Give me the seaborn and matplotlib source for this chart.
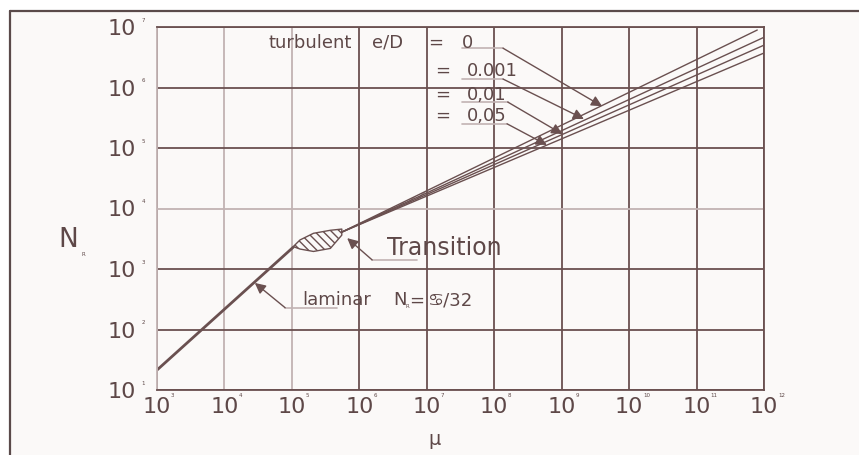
import numpy as np
import pandas as pd
import seaborn as sns
import matplotlib.pyplot as plt
from matplotlib.lines import Line2D
from matplotlib.patches import Rectangle

# ---- data (log10 values) ----
x_decades = list(range(3, 13))          # 10^3 .. 10^12
y_decades = list(range(1, 8))           # 10^1 .. 10^7

laminar_logx = [3.0, 5.02]
laminar_logy = [1.33, 3.36]

lens_logx = [5.02, 5.12, 5.32, 5.57, 5.74]
lens_upper = [3.37, 3.48, 3.59, 3.64, 3.66]
lens_lower = [3.37, 3.33, 3.29, 3.34, 3.56]

roughness = ["0", "0.001", "0,01", "0,05"]
turb_logx = {"0": [5.74, 11.9], "0.001": [5.74, 12.0],
             "0,01": [5.74, 12.0], "0,05": [5.74, 12.0]}
turb_logy = {"0": [3.61, 6.95], "0.001": [3.61, 6.83],
             "0,01": [3.61, 6.70], "0,05": [3.61, 6.57]}

ink = "#6a5050"
txt = "#5e4848"
light = "#c2b3b3"

sns.set_theme(style="white")
plt.rcParams["font.family"] = ["DejaVu Sans"]

fig = plt.figure(figsize=(8.59, 4.55), dpi=100, facecolor="white")
# paper frame (scanned look)
fig.add_artist(Rectangle((10 / 859, 0), 1, 1 - 11 / 455, transform=fig.transFigure,
                         facecolor="#fbf9f8", edgecolor="none", zorder=-5))
fig.add_artist(Line2D([10 / 859, 10 / 859], [0, 1 - 11 / 455], transform=fig.transFigure,
                      color="#5a4a4a", lw=1.6))
fig.add_artist(Line2D([10 / 859, 1], [1 - 11 / 455, 1 - 11 / 455], transform=fig.transFigure,
                      color="#5a4a4a", lw=1.6))

ax = fig.add_axes([157 / 859, 1 - 390 / 455, 607 / 859, 363 / 455])
ax.set_facecolor("#fbf9f8")
ax.set_xscale("log")
ax.set_yscale("log")
ax.set_xlim(1e3, 1e12)
ax.set_ylim(1e1, 1e7)

# laminar
sns.lineplot(x=10 ** np.array(laminar_logx), y=10 ** np.array(laminar_logy),
             ax=ax, color=ink, lw=2.0)

# transition lens
lx = 10 ** np.array(lens_logx)
ax.fill_between(lx, 10 ** np.array(lens_lower), 10 ** np.array(lens_upper),
                facecolor="none", edgecolor=ink, hatch="\\\\\\\\", lw=1.0)

# turbulent lines
for key in roughness:
    df = pd.DataFrame({"x": 10 ** np.array(turb_logx[key]),
                       "y": 10 ** np.array(turb_logy[key])})
    sns.lineplot(data=df, x="x", y="y", ax=ax, color=ink, lw=1.0)

# dense band near the start of the turbulent region
bx = np.logspace(5.74, 7.0, 20)
top = 10 ** (3.61 + (np.log10(bx) - 5.74) * (6.95 - 3.61) / (11.9 - 5.74))
bot = 10 ** (3.61 + (np.log10(bx) - 5.74) * (6.57 - 3.61) / (12.0 - 5.74))
ax.fill_between(bx, bot, top, facecolor="none", edgecolor=ink, hatch="//////", lw=0, alpha=0.6)

# grid / axes
ax.set_xticks([10.0 ** k for k in x_decades])
ax.set_yticks([10.0 ** k for k in y_decades])
ax.minorticks_off()
ax.set_xticklabels(["10"] * len(x_decades))
ax.set_yticklabels(["10"] * len(y_decades))
ax.tick_params(axis="x", length=0, pad=5, labelsize=16, labelcolor=txt)
ax.tick_params(axis="y", length=0, pad=15, labelsize=16, labelcolor=txt)
ax.grid(True, which="major", color=ink, lw=1.3)
for i, gl in enumerate(ax.get_xgridlines()):
    if x_decades[i] in (4, 5):
        gl.set_color(light)
for i, gl in enumerate(ax.get_ygridlines()):
    if y_decades[i] == 4:
        gl.set_color(light)
for s in ax.spines.values():
    s.set_color(ink)
    s.set_linewidth(1.3)
ax.spines["left"].set_color(light)

# tiny exponents
for k in x_decades:
    ax.annotate(str(k), xy=(10.0 ** k, 0), xycoords=("data", "axes fraction"),
                xytext=(10, -4), textcoords="offset points", fontsize=4,
                color=txt, ha="left", va="center")
for k in y_decades:
    ax.annotate(str(k), xy=(0, 10.0 ** k), xycoords=("axes fraction", "data"),
                xytext=(-10, 5), textcoords="offset points", fontsize=4,
                color=txt, ha="center", va="center")

# axis labels
ax.set_ylabel("N", rotation=0, fontsize=19, color=txt, va="center", ha="center")
ax.yaxis.set_label_coords(-0.147, 0.413)
ax.text(-0.124, 0.37, "R", transform=ax.transAxes, fontsize=4, color=txt)
ax.set_xlabel("μ", fontsize=14, color=txt, va="center")
ax.xaxis.set_label_coords(0.457, -0.135)


def P(lx, ly):
    return (10 ** lx, 10 ** ly)


def arrow(start, tip):
    ax.annotate("", xy=P(*tip), xytext=P(*start),
                arrowprops=dict(arrowstyle="-|>", color=ink, lw=1.0,
                                mutation_scale=16, shrinkA=0, shrinkB=0))


def underline(x0, x1, y):
    ax.plot([10 ** x0, 10 ** x1], [10 ** y, 10 ** y], color=light, lw=1.2)


# turbulent labels
ax.text(*P(4.65, 6.66), "turbulent", fontsize=13, color=txt, va="baseline")
ax.text(*P(6.19, 6.66), "e/D", fontsize=13, color=txt, va="baseline")
ax.text(*P(7.02, 6.66), "=", fontsize=13, color=txt, va="baseline")
ax.text(*P(7.52, 6.66), "0", fontsize=13, color=txt, va="baseline")
rows = [("0.001", 6.19, 6.14, 8.13, (9.33, 5.48)),
        ("0,01", 5.79, 5.76, 8.20, (9.01, 5.23)),
        ("0,05", 5.45, 5.40, 8.19, (8.78, 5.05))]
underline(7.52, 8.13, 6.65)
arrow((8.13, 6.65), (9.60, 5.69))
for lab, yb, yu, xe, tip in rows:
    ax.text(*P(7.13, yb), "=", fontsize=13, color=txt, va="baseline")
    ax.text(*P(7.60, yb), lab, fontsize=13, color=txt, va="baseline")
    underline(7.52, xe, yu)
    arrow((xe, yu), tip)

# transition
ax.text(*P(6.41, 3.23), "Transition", fontsize=17, color=txt, va="baseline")
underline(6.19, 6.86, 3.15)
arrow((6.19, 3.15), (5.82, 3.51))

# laminar
ax.text(*P(5.15, 2.40), "laminar", fontsize=13, color=txt, va="baseline")
underline(4.90, 5.67, 2.36)
arrow((4.90, 2.36), (4.45, 2.77))
ax.text(*P(6.50, 2.40), "N", fontsize=13, color=txt, va="baseline")
ax.text(*P(6.68, 2.36), "R", fontsize=4, color=txt, va="baseline")
ax.text(*P(6.74, 2.40), "=", fontsize=13, color=txt, va="baseline")
ax.text(*P(7.02, 2.40), "♋/32", fontsize=13, color=txt, va="baseline")

fig.savefig("out.png", dpi=100)
